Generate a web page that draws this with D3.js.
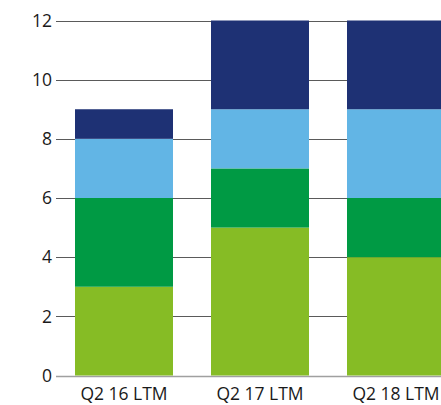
<!DOCTYPE html>
<html><head><meta charset="utf-8">
<script src="https://cdnjs.cloudflare.com/ajax/libs/d3/7.8.5/d3.min.js"></script>
<style>html,body{margin:0;padding:0;background:#fff;overflow:hidden}svg{display:block}</style>
</head><body>
<script>
const categories = ["Q2 16 LTM", "Q2 17 LTM", "Q2 18 LTM"];
const seriesNames = ["s1", "s2", "s3", "s4"];
const s1 = [3, 5, 4];
const s2 = [3, 2, 2];
const s3 = [2, 2, 3];
const s4 = [1, 3, 3];
const yTicks = [0, 2, 4, 6, 8, 10, 12];
const colors = ["#86bc25", "#009a44", "#62b5e5", "#1e3174"];

const W = 441, H = 405;
const svg = d3.select("body").append("svg").attr("width", W).attr("height", H);

const rows = categories.map((c, i) => ({cat: c, s1: s1[i], s2: s2[i], s3: s3[i], s4: s4[i]}));
const stack = d3.stack().keys(seriesNames)(rows);

const x = d3.scaleBand().domain(categories).range([56, 464]).paddingInner(38/136).paddingOuter(19/136);
const y = d3.scaleLinear().domain([0, 12]).range([375.5, 20.5]);

const font = "'Open Sans', sans-serif";

// gridlines
svg.append("g").selectAll("line").data(yTicks).join("line")
  .attr("x1", 56).attr("x2", W)
  .attr("y1", d => Math.round(y(d)) + 0.5).attr("y2", d => Math.round(y(d)) + 0.5)
  .attr("stroke", d => d === 0 ? "#a0a0a0" : "#5a5a5a").attr("stroke-width", d => d === 0 ? 1.5 : 1);

// y labels
svg.append("g").selectAll("text").data(yTicks).join("text")
  .attr("x", 52).attr("y", d => y(d)).attr("dy", "0.36em")
  .attr("text-anchor", "end").attr("font-family", font).attr("font-size", 17.5).attr("fill", "#1a1a1a")
  .text(d => d);

// bars
svg.append("g").selectAll("g").data(stack).join("g")
  .attr("fill", (d, i) => colors[i])
  .selectAll("rect").data(d => d).join("rect")
  .attr("x", d => x(d.data.cat)).attr("width", x.bandwidth())
  .attr("y", d => y(d[1])).attr("height", d => y(d[0]) - y(d[1]));

// x labels
svg.append("g").selectAll("text").data(categories).join("text")
  .attr("x", d => x(d) + x.bandwidth() / 2).attr("y", 400)
  .attr("text-anchor", "middle").attr("font-family", font).attr("font-size", 17.5).attr("fill", "#1a1a1a")
  .text(d => d);
</script>
</body></html>
